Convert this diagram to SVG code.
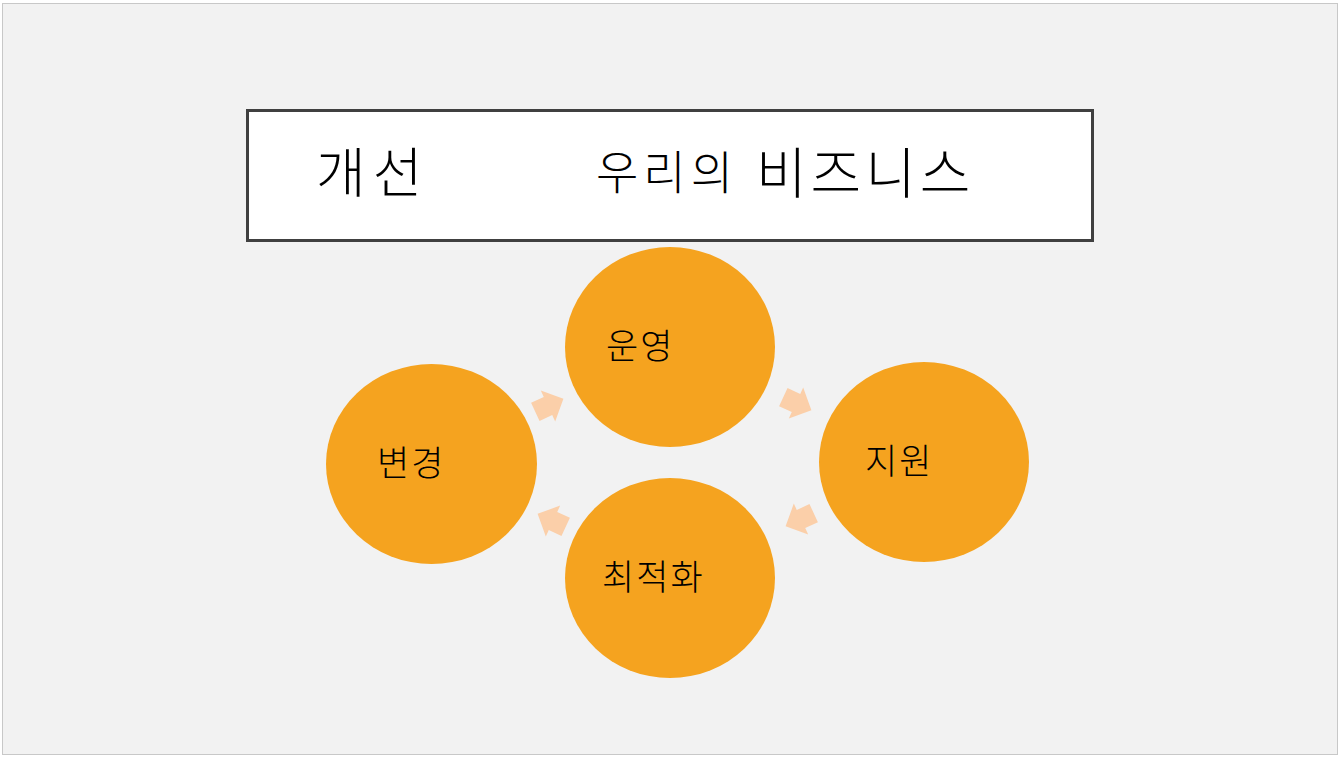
<svg xmlns="http://www.w3.org/2000/svg" width="1340" height="758" viewBox="0 0 1340 758">
<style>
.t{font-family:"Noto Sans CJK KR","Noto Sans",sans-serif;fill:#000}
.n{font-size:35px;font-weight:300;letter-spacing:2px}
.h{font-weight:300}
.c{fill:#f5a31f}
.a{fill:#fbcfa9}
</style>
<defs>
<path id="arr" d="M-14,-10 L0,-10 L0,-17 L17,0 L0,17 L0,10 L-14,10 Z"/>
</defs>
<rect x="2.5" y="3.5" width="1335" height="751" fill="#f2f2f2" stroke="#c8c8c8" stroke-width="1"/>
<g id="title">
<rect x="247.5" y="110.5" width="845" height="130" fill="#fff" stroke="#404040" stroke-width="3"/>
<text class="t h" x="316" y="193" font-size="54" letter-spacing="7">개선</text>
<text class="t h" x="596" y="189" font-size="46" letter-spacing="5">우리의</text>
<text class="t h" x="756" y="193" font-size="55" letter-spacing="4">비즈니스</text>
</g>
<g id="connectors">
<use href="#arr" class="a" transform="translate(548,406) rotate(-25)"/>
<use href="#arr" class="a" transform="translate(796,403) rotate(25)"/>
<use href="#arr" class="a" transform="translate(801,519) rotate(155)"/>
<use href="#arr" class="a" transform="translate(553,521) rotate(205)"/>
</g>
<g id="n-unyeong">
<ellipse class="c" cx="670" cy="347" rx="105" ry="100"/>
<text class="t n" x="606" y="359">운영</text>
</g>
<g id="n-byeongyeong">
<ellipse class="c" cx="431.5" cy="464" rx="105.5" ry="100"/>
<text class="t n" x="377" y="476">변경</text>
</g>
<g id="n-jiwon">
<ellipse class="c" cx="924" cy="462" rx="105" ry="100"/>
<text class="t n" x="865" y="474">지원</text>
</g>
<g id="n-choejeokhwa">
<ellipse class="c" cx="670" cy="578" rx="105" ry="100"/>
<text class="t n" x="602" y="590">최적화</text>
</g>
</svg>
